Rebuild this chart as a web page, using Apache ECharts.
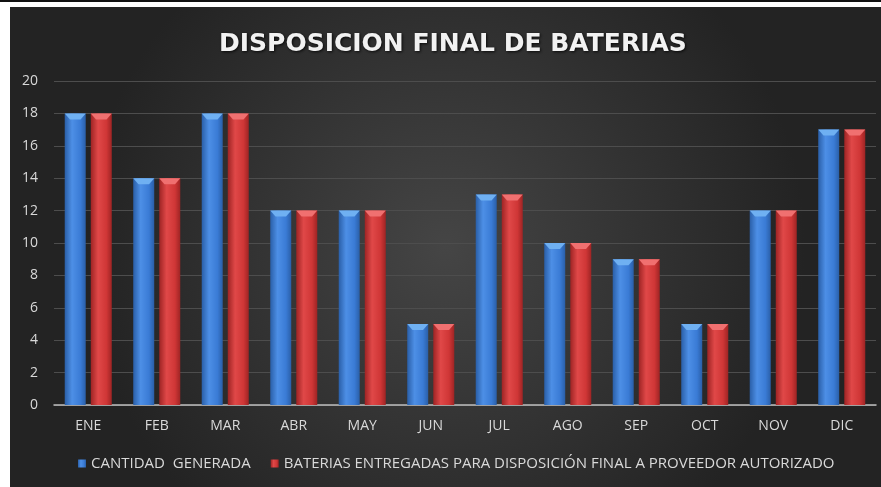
<!DOCTYPE html>
<html>
<head>
<meta charset="utf-8">
<script src="https://cdn.jsdelivr.net/npm/echarts@6/dist/echarts.min.js"></script>
<style>
  html, body { margin: 0; padding: 0; background: #fff; }
  #wrap { position: relative; width: 881px; height: 487px; background: #fff; overflow: hidden; }
  #topline { position: absolute; left: 0; top: 0; width: 881px; height: 2px; background: #111; }
  #chart { position: absolute; left: 10px; top: 7px; width: 871px; height: 480px; }
</style>
</head>
<body>
<div id="wrap">
  <div id="topline"></div>
  <div id="chart"></div>
</div>
<script>
// 数据
const months = ['ENE', 'FEB', 'MAR', 'ABR', 'MAY', 'JUN', 'JUL', 'AGO', 'SEP', 'OCT', 'NOV', 'DIC'];
const generada = [18, 14, 18, 12, 12, 5, 13, 10, 9, 5, 12, 17];
const entregadas = [18, 14, 18, 12, 12, 5, 13, 10, 9, 5, 12, 17];
const seriesNames = ['CANTIDAD  GENERADA', 'BATERIAS ENTREGADAS PARA DISPOSICIÓN FINAL A PROVEEDOR AUTORIZADO'];

const chart = echarts.init(document.getElementById('chart'));

// 圆柱渐变
function barGrad(dark, mid, light) {
  return new echarts.graphic.LinearGradient(0, 0, 1, 0, [
    { offset: 0, color: dark },
    { offset: 0.35, color: light },
    { offset: 0.75, color: mid },
    { offset: 1, color: dark }
  ]);
}
const capPath = 'path://M0,0 L20,0 L15,6 L5,6 Z';

const option = {
  backgroundColor: new echarts.graphic.RadialGradient(0.5, 0.5, 0.75, [
    { offset: 0, color: '#454545' },
    { offset: 1, color: '#232323' }
  ]),
  textStyle: { fontFamily: 'Open Sans' },
  title: {
    text: 'DISPOSICION FINAL DE BATERIAS',
    left: 204,
    top: 20,
    textStyle: {
      color: '#f2f2f2',
      fontSize: 25,
      fontWeight: 'bold',
      fontFamily: 'DejaVu Sans',
      textShadowColor: 'rgba(0,0,0,0.8)',
      textShadowBlur: 3,
      textShadowOffsetX: 1,
      textShadowOffsetY: 1
    }
  },
  legend: {
    bottom: 11,
    left: 63,
    itemWidth: 8,
    itemHeight: 8,
    itemGap: 20,
    textStyle: { color: '#d9d9d9', fontSize: 15, fontFamily: 'Open Sans' },
    data: [
      { name: seriesNames[0], icon: 'rect' },
      { name: seriesNames[1], icon: 'rect' }
    ]
  },
  grid: { left: 44, right: 5, top: 74, bottom: 82 },
  xAxis: {
    type: 'category',
    data: months,
    axisLine: { lineStyle: { color: '#bfbfbf', width: 1.5 } },
    axisTick: { show: false },
    axisLabel: { color: '#d9d9d9', fontSize: 14, margin: 14 }
  },
  yAxis: {
    type: 'value',
    min: 0,
    max: 20,
    interval: 2,
    axisLine: { show: false },
    axisTick: { show: false },
    splitLine: { lineStyle: { color: '#4d4d4d', width: 1 } },
    axisLabel: { color: '#d9d9d9', fontSize: 14, margin: 16 }
  },
  series: [
    {
      name: seriesNames[0],
      type: 'bar',
      data: generada,
      barWidth: 21,
      barGap: '24%',
      itemStyle: { color: barGrad('#2a5fa8', '#3a7bd5', '#4d8fe6') }
    },
    {
      name: seriesNames[1],
      type: 'bar',
      data: entregadas,
      barWidth: 21,
      itemStyle: { color: barGrad('#9e2424', '#cf3636', '#e04848') }
    },
    {
      name: seriesNames[0],
      type: 'pictorialBar',
      data: generada,
      symbol: capPath,
      symbolSize: [21, 6],
      symbolPosition: 'end',
      symbolOffset: [-13, 0],
      itemStyle: { color: '#6fb0f2' },
      z: 3,
      silent: true
    },
    {
      name: seriesNames[1],
      type: 'pictorialBar',
      data: entregadas,
      symbol: capPath,
      symbolSize: [21, 6],
      symbolPosition: 'end',
      symbolOffset: [13, 0],
      itemStyle: { color: '#f07070' },
      z: 3,
      silent: true
    }
  ]
};
chart.setOption(option);
</script>
</body>
</html>
